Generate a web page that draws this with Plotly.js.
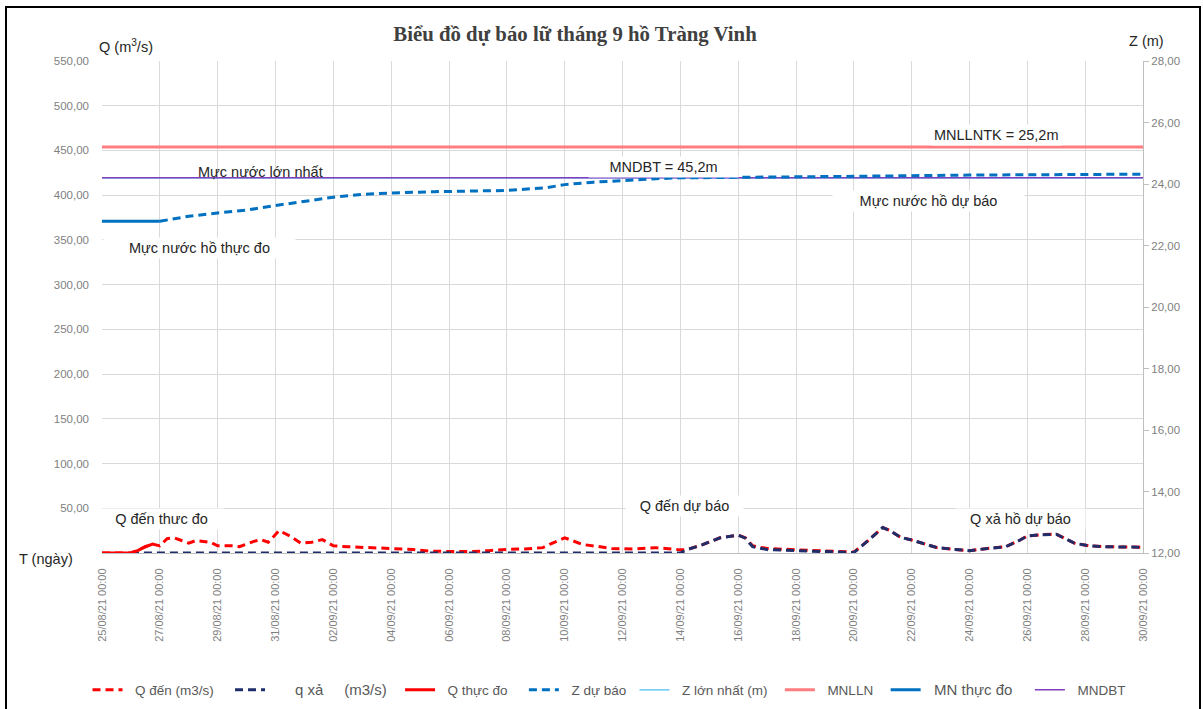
<!DOCTYPE html>
<html>
<head>
<meta charset="utf-8">
<script src="https://cdn.plot.ly/plotly-3.0.1.min.js"></script>
<style>
  html, body { margin: 0; padding: 0; background: #ffffff; overflow: hidden; }
  #chart { width: 1203px; height: 709px; }
  #frame { position: absolute; left: 5px; top: 6px; width: 1196px; height: 712px;
           border: 2px solid #000; pointer-events: none; box-sizing: border-box; }
</style>
</head>
<body>
<div id="chart"></div>
<div id="frame"></div>
<script>
// ---------------- DATA ----------------
const qTime = [
  '2021-08-25 00:00','2021-08-25 12:00','2021-08-26 00:00','2021-08-26 06:00','2021-08-26 12:00','2021-08-26 18:00',
  '2021-08-27 00:00','2021-08-27 06:00','2021-08-27 12:00','2021-08-27 18:00','2021-08-28 00:00','2021-08-28 06:00',
  '2021-08-28 12:00','2021-08-28 18:00','2021-08-29 00:00','2021-08-29 12:00','2021-08-29 18:00','2021-08-30 06:00',
  '2021-08-30 12:00','2021-08-30 18:00','2021-08-31 03:00','2021-08-31 12:00','2021-08-31 21:00','2021-09-01 06:00',
  '2021-09-01 15:00','2021-09-02 00:00','2021-09-02 12:00','2021-09-03 06:00','2021-09-04 00:00','2021-09-04 18:00',
  '2021-09-05 09:00','2021-09-06 00:00','2021-09-06 18:00','2021-09-07 09:00','2021-09-08 00:00','2021-09-08 15:00',
  '2021-09-09 06:00','2021-09-09 12:00','2021-09-10 00:00','2021-09-10 06:00','2021-09-10 15:00','2021-09-11 03:00',
  '2021-09-11 15:00','2021-09-12 09:00','2021-09-13 03:00','2021-09-13 12:00','2021-09-14 00:00','2021-09-14 06:00',
  '2021-09-14 18:00','2021-09-15 09:00','2021-09-16 00:00','2021-09-16 06:00','2021-09-16 12:00','2021-09-17 00:00',
  '2021-09-17 18:00','2021-09-18 03:00','2021-09-18 18:00','2021-09-19 12:00','2021-09-20 00:00','2021-09-20 12:00',
  '2021-09-21 00:00','2021-09-21 06:00','2021-09-21 15:00','2021-09-22 00:00','2021-09-22 09:00','2021-09-22 21:00',
  '2021-09-23 12:00','2021-09-24 00:00','2021-09-24 15:00','2021-09-25 06:00','2021-09-25 18:00','2021-09-26 00:00',
  '2021-09-26 12:00','2021-09-27 00:00','2021-09-27 15:00','2021-09-28 03:00','2021-09-28 15:00','2021-09-29 06:00',
  '2021-09-30 00:00'
];
const qDen = [
  0, 0, 0, 3, 7, 10,
  8, 16, 17, 14, 11, 14,
  13, 12, 8, 8, 7, 13,
  15, 12, 25, 19, 11, 12,
  15, 8, 7, 6, 5.5, 4,
  2, 1.5, 1.5, 2.6, 4, 4.5,
  6, 10, 17, 14, 9.5, 7.4,
  5, 4.5, 6, 5, 3.5, 4,
  9, 17, 20, 17, 8, 5,
  4, 4, 2.5, 1.5, 1, 14,
  28.5, 25, 17.5, 14.5, 11, 6,
  4, 2.6, 5, 7, 14.5, 19,
  20.5, 21, 11, 8, 7, 6.5,
  6.5
];
const qXa = [
  null, null, 0, 0, 0, 0,
  0, 0, 0, 0, 0, 0,
  0, 0, 0, 0, 0, 0,
  0, 0, 0, 0, 0, 0,
  0, 0, 0, 0, 0, 0,
  0, 0, 0, 0, 0, 0,
  0, 0, 0, 0, 0, 0,
  0, 0, 0, 0, 0, 4,
  9, 17, 20, 16.5, 7, 3.8,
  3, 3, 1.6, 0.8, 0.5, 14,
  28.5, 25, 17.5, 14.5, 11, 6,
  4, 2.6, 5, 7, 14.5, 19,
  20.5, 21, 11, 8, 7, 6.5,
  6.5
];
const qThucDoTime = ['2021-08-25 00:00','2021-08-25 12:00','2021-08-26 00:00','2021-08-26 06:00','2021-08-26 12:00','2021-08-26 18:00'];
const qThucDo     = [0, 0, 0, 3, 7, 10];

const mnThucDoTime = ['2021-08-25 00:00','2021-08-27 00:00'];
const mnThucDo     = [22.79, 22.79];

const zTime = [
  '2021-08-27 00:00','2021-08-28 00:00','2021-08-29 00:00','2021-08-30 00:00','2021-08-31 00:00','2021-09-01 00:00',
  '2021-09-02 00:00','2021-09-03 00:00','2021-09-04 00:00','2021-09-05 12:00','2021-09-06 18:00','2021-09-08 00:00',
  '2021-09-09 09:00','2021-09-10 00:00','2021-09-11 00:00','2021-09-12 00:00','2021-09-13 09:00','2021-09-14 00:00',
  '2021-09-16 00:00','2021-09-20 00:00','2021-09-24 00:00','2021-09-30 00:00'
];
const zDuBao = [
  22.79, 22.95, 23.06, 23.15, 23.30, 23.44,
  23.57, 23.66, 23.71, 23.75, 23.76, 23.79,
  23.88, 23.98, 24.06, 24.12, 24.18, 24.20,
  24.21, 24.25, 24.29, 24.32
];

const refTime   = ['2021-08-25 00:00','2021-09-30 00:00'];
const mnlln     = [25.2, 25.2];
const mndbt     = [24.2, 24.2];
const zLonNhat  = [24.2, 24.2];

const qTickVals = [50, 100, 150, 200, 250, 300, 350, 400, 450, 500, 550];
const qTickText = ['50,00', '100,00', '150,00', '200,00', '250,00', '300,00', '350,00', '400,00', '450,00', '500,00', '550,00'];

// ---------------- TRACES ----------------
const DASH = '8px,5px';
const NB = '\u00a0';
const pad = (s, l, r) => NB.repeat(l) + s + NB.repeat(r);
const big = s => '<span style="font-size:15px">' + s + '</span>';
const traces = [
  { name: pad('Q đến (m3/s)', 2, 3), x: qTime, y: qDen, type: 'scatter', mode: 'lines', yaxis: 'y',
    line: { color: '#ff0000', width: 3, dash: DASH }, legend: 'legend', legendrank: 1 },
  { name: big(pad('q xả' + NB.repeat(5) + '(m3/s)', 6, 2)), x: qTime, y: qXa, type: 'scatter', mode: 'lines', yaxis: 'y',
    line: { color: '#1f2d6b', width: 3, dash: DASH }, legend: 'legend', legendrank: 2 },
  { name: pad('Q thực đo', 2, 3), x: qThucDoTime, y: qThucDo, type: 'scatter', mode: 'lines', yaxis: 'y',
    line: { color: '#ff0000', width: 3 }, legend: 'legend', legendrank: 3 },
  { name: pad('MNLLN', 2, 2), x: refTime, y: mnlln, type: 'scatter', mode: 'lines', yaxis: 'y2',
    line: { color: '#ff7c80', width: 3 }, legend: 'legend2', legendrank: 6 },
  { name: pad('Z lớn nhất (m)', 2, 2), x: refTime, y: zLonNhat, type: 'scatter', mode: 'lines', yaxis: 'y2',
    line: { color: '#4dbdf2', width: 1.2 }, legend: 'legend2', legendrank: 5 },
  { name: pad('MNDBT', 2, 0), x: refTime, y: mndbt, type: 'scatter', mode: 'lines', yaxis: 'y2',
    line: { color: '#7f3fbf', width: 1.5 }, legend: 'legend2', legendrank: 8 },
  { name: pad('Z dự báo', 2, 0), x: zTime, y: zDuBao, type: 'scatter', mode: 'lines', yaxis: 'y2',
    line: { color: '#0070c0', width: 3, dash: DASH }, legend: 'legend', legendrank: 4 },
  { name: big(pad('MN thực đo', 2, 3)), x: mnThucDoTime, y: mnThucDo, type: 'scatter', mode: 'lines', yaxis: 'y2',
    line: { color: '#0070c0', width: 3 }, legend: 'legend2', legendrank: 7 }
];

const annFont = { family: 'Liberation Sans, Arial, sans-serif', size: 14.5, color: '#262626' };
function lab(text, x, y, w, bg) {
  return { text: text, xref: 'paper', yref: 'paper', x: x, y: y, showarrow: false,
           xanchor: 'center', yanchor: 'middle', bgcolor: bg === false ? 'rgba(0,0,0,0)' : '#ffffff',
           font: annFont, width: w, borderpad: 2 };
}

const legendBase = { orientation: 'h', xref: 'container', yref: 'container', xanchor: 'left',
                     y: 1 - 690 / 709, yanchor: 'middle', bgcolor: 'rgba(0,0,0,0)',
                     font: { size: 13.5, color: '#595959' }, traceorder: 'normal' };

const layout = {
  width: 1203, height: 709,
  paper_bgcolor: '#ffffff', plot_bgcolor: '#ffffff',
  separators: ',.',
  margin: { l: 102, r: 60, t: 61, b: 156, autoexpand: false },
  font: { family: 'Liberation Sans, Arial, sans-serif', color: '#595959', size: 11 },
  title: { text: '<b>Biểu đồ dự báo lữ tháng 9 hồ Tràng Vinh</b>', x: 0.478, xanchor: 'center',
           y: 0.953, yanchor: 'middle',
           font: { family: 'Liberation Serif, Times New Roman, serif', size: 20.8, color: '#404040' } },
  showlegend: true,
  legend:  Object.assign({}, legendBase, { x: 87.5 / 1203 }),
  legend2: Object.assign({}, legendBase, { x: 634.5 / 1203 }),
  xaxis: {
    type: 'date', range: ['2021-08-25 00:00', '2021-09-30 00:00'], automargin: false,
    tick0: '2021-08-25', dtick: 2 * 86400000, tickformat: '%d/%m/%y %H:%M',
    tickangle: -90, tickfont: { size: 11, color: '#7f7f7f' }, ticklabelstandoff: 10,
    showgrid: true, gridcolor: '#d9d9d9', gridwidth: 1,
    showline: true, linecolor: '#bfbfbf', linewidth: 1, ticks: '', zeroline: false
  },
  yaxis: {
    range: [0, 550], tickvals: qTickVals, ticktext: qTickText, automargin: false,
    tickfont: { size: 11.5, color: '#7f7f7f' }, ticklabelstandoff: 12,
    showgrid: true, gridcolor: '#d9d9d9', gridwidth: 1, zeroline: false,
    showline: false, ticks: ''
  },
  yaxis2: {
    overlaying: 'y', side: 'right', range: [12, 28], dtick: 2, tick0: 12, tickformat: '.2f',
    tickfont: { size: 11.5, color: '#7f7f7f' }, automargin: false,
    showgrid: false, zeroline: false, showline: true, linecolor: '#bfbfbf', linewidth: 1,
    ticks: 'outside', ticklen: 5, tickcolor: '#bfbfbf'
  },
  annotations: [
    lab('Mực nước lớn nhất', 0.1527, 0.7746, undefined, false),
    lab('Mực nước hồ thực đo', 0.0941, 0.6203, 187),
    lab('MNDBT = 45,2m', 0.539, 0.785, 145),
    lab('MNLLNTK = 25,2m', 0.8588, 0.8497),
    lab('Mực nước hồ dự báo', 0.7944, 0.7157, 187),
    lab('Q đến thưc đo', 0.0576, 0.0701, 121),
    lab('Q đến dự báo', 0.56, 0.0964, 113),
    lab('Q xả hồ dự báo', 0.8828, 0.070, 125),
    { text: 'Q (m<sup>3</sup>/s)', xref: 'paper', yref: 'paper', x: -0.0048, y: 1.0305,
      xanchor: 'left', yanchor: 'middle', showarrow: false, font: annFont },
    { text: 'Z (m)', xref: 'paper', yref: 'paper', x: 0.9846, y: 1.0406,
      xanchor: 'left', yanchor: 'middle', showarrow: false, font: annFont },
    { text: 'T (ngày)', xref: 'paper', yref: 'paper', x: -0.0817, y: -0.0132,
      xanchor: 'left', yanchor: 'middle', showarrow: false, font: annFont }
  ]
};

Plotly.newPlot('chart', traces, layout, { displayModeBar: false, staticPlot: true });
</script>
</body>
</html>
